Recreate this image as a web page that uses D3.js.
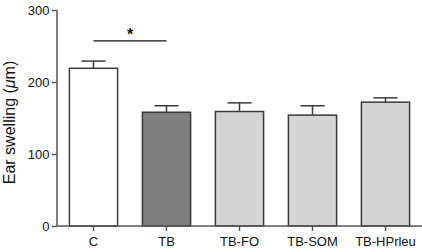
<!DOCTYPE html>
<html><head><meta charset="utf-8">
<script src="https://cdn.jsdelivr.net/npm/d3@7"></script>
<style>body{margin:0;background:#fff}svg{display:block}text{font-family:"Liberation Sans",Arial,sans-serif}</style>
</head><body><svg id="c" width="422" height="252"></svg>
<script>
const categories = ["C", "TB", "TB-FO", "TB-SOM", "TB-HPrleu"];
const means = [219, 158, 159, 154, 172];
const errors = [10, 9, 12, 13, 6];
const fills = ["#ffffff", "#7f7f7f", "#d4d4d4", "#d4d4d4", "#d4d4d4"];
const yTicks = [0, 100, 200, 300];

const svg = d3.select("#c");
const mLeft = 57, mRight = 422, mTop = 10, mBottom = 226;
const x = d3.scaleBand().domain(categories).range([mLeft, mRight]).paddingInner(0.34).paddingOuter(0.17);
const y = d3.scaleLinear().domain([0, 300]).range([mBottom, mTop]);
const stroke = "#3a3a3a";

// bars
svg.selectAll("rect.bar").data(categories).enter().append("rect")
  .attr("x", d => x(d)).attr("width", x.bandwidth())
  .attr("y", (d, i) => y(means[i])).attr("height", (d, i) => y(0) - y(means[i]))
  .attr("fill", (d, i) => fills[i]).attr("stroke", stroke).attr("stroke-width", 1.5);

// error bars
const eb = svg.selectAll("g.eb").data(categories).enter().append("g");
eb.append("line")
  .attr("x1", d => x(d) + x.bandwidth() / 2).attr("x2", d => x(d) + x.bandwidth() / 2)
  .attr("y1", (d, i) => y(means[i])).attr("y2", (d, i) => y(means[i] + errors[i]))
  .attr("stroke", stroke).attr("stroke-width", 1.5);
eb.append("line")
  .attr("x1", d => x(d) + x.bandwidth() / 4).attr("x2", d => x(d) + x.bandwidth() * 3 / 4)
  .attr("y1", (d, i) => y(means[i] + errors[i])).attr("y2", (d, i) => y(means[i] + errors[i]))
  .attr("stroke", stroke).attr("stroke-width", 1.5);

// axes
const yAxis = svg.append("g").attr("transform", `translate(${mLeft},0)`)
  .call(d3.axisLeft(y).tickValues(yTicks).tickSize(5).tickSizeOuter(0).tickPadding(2.5));
const xAxis = svg.append("g").attr("transform", `translate(0,${mBottom})`)
  .call(d3.axisBottom(x).tickSize(5).tickSizeOuter(0).tickPadding(5.5));
[yAxis, xAxis].forEach(a => {
  a.select(".domain").attr("stroke", "#555").attr("stroke-width", 1.5);
  a.selectAll(".tick line").attr("stroke", "#555").attr("stroke-width", 1.5);
  a.selectAll("text").attr("fill", "#111").style("font-size", "13px").style("font-family", '"Liberation Sans",Arial,sans-serif');
});
yAxis.select(".domain").attr("d", `M0,${mBottom}V${mTop}`);
xAxis.select(".domain").attr("d", `M${mLeft},0H${mRight}`);

// axis title
const t = svg.append("text").attr("transform", `translate(15,122.5) rotate(-90)`)
  .attr("text-anchor", "middle").style("font-size", "16px").attr("fill", "#111");
t.append("tspan").text("Ear swelling (");
t.append("tspan").attr("font-style", "italic").text("μ");
t.append("tspan").text("m)");

// significance
const c0 = x("C") + x.bandwidth() / 2, c1 = x("TB") + x.bandwidth() / 2;
svg.append("line").attr("x1", c0).attr("x2", c1).attr("y1", y(257)).attr("y2", y(257))
  .attr("stroke", "#111").attr("stroke-width", 1.2);
svg.append("text").attr("x", (c0 + c1) / 2).attr("y", y(257) - 1).attr("text-anchor", "middle")
  .style("font-size", "16px").style("font-weight", "bold").attr("fill", "#111").text("*");
</script></body></html>
